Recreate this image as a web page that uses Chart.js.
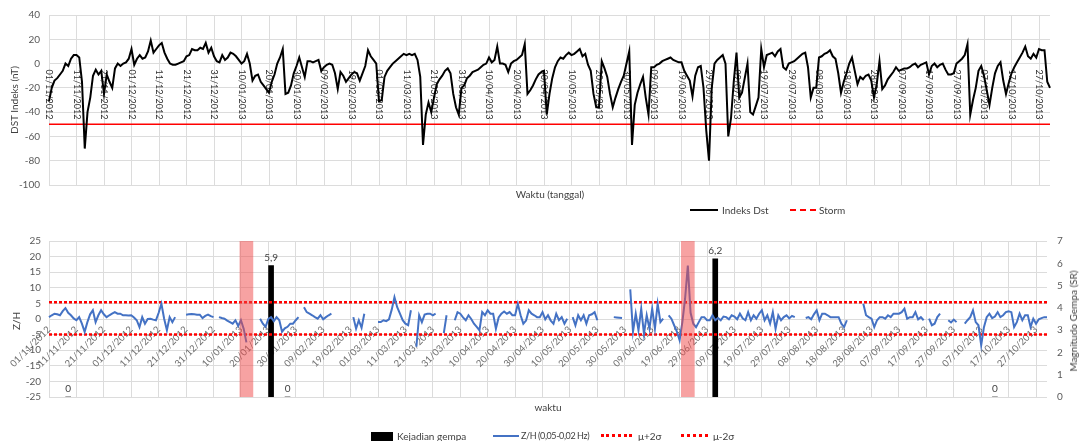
<!DOCTYPE html>
<html>
<head>
<meta charset="utf-8">
<script src="https://cdn.jsdelivr.net/npm/chart.js@4.4.0/dist/chart.umd.min.js"></script>
<style>
  html, body { margin: 0; padding: 0; background: #fff; }
  body { width: 1081px; height: 441px; position: relative; overflow: hidden; font-family: Lato, "Open Sans", sans-serif; }
  canvas { position: absolute; left: 0; }
  #dstChart { top: 0; }
  #zhChart { top: 220px; }
  .txt { position: absolute; font-size: 10px; line-height: 12px; color: #404040; white-space: nowrap; }
  .rot { transform: translate(-50%, -50%) rotate(-90deg); }
  .ctr { transform: translate(-50%, -50%); }
  .key { position: absolute; }
  .narrow { font-size: 9px; letter-spacing: -0.4px; }
</style>
</head>
<body>
<canvas id="dstChart" width="1081" height="200"></canvas>
<canvas id="zhChart" width="1081" height="195"></canvas>

<!-- axis titles -->
<div class="txt rot" style="left:14px; top:100px;">DST Indeks (nT)</div>
<div class="txt ctr" style="left:550px; top:194px;">Waktu (tanggal)</div>
<div class="txt rot" style="left:16px; top:321px;">Z/H</div>
<div class="txt ctr" style="left:548px; top:407px;">waktu</div>
<div class="txt rot" style="left:1073px; top:321px;">Magnitudo Gempa (SR)</div>

<!-- legends -->
<div class="key" style="left:690px; top:209px; width:28px; height:2px; background:#000;"></div>
<div class="txt" style="left:722px; top:204px;">Indeks Dst</div>
<div class="key" style="left:790px; top:209px; width:26px; border-top:2px dashed #ff0000;"></div>
<div class="txt" style="left:819px; top:204px;">Storm</div>

<div class="key" style="left:371px; top:432px; width:22px; height:9px; background:#000;"></div>
<div class="txt" style="left:397px; top:430px;">Kejadian gempa</div>
<div class="key" style="left:493px; top:435px; width:26px; height:2px; background:#4472c4;"></div>
<div class="txt narrow" style="left:521px; top:430px;">Z/H (0,05-0,02 Hz)</div>
<div class="key" style="left:601px; top:434px; width:31px; border-top:3px dotted #ff0000;"></div>
<div class="txt" style="left:638px; top:430px;">μ+2σ</div>
<div class="key" style="left:681px; top:434px; width:27px; border-top:3px dotted #ff0000;"></div>
<div class="txt" style="left:713px; top:430px;">μ-2σ</div>

<script>
// daily Dst index (nT), 01/11/2012 .. 31/10/2013
const dstIndex = [
  -31, -20, -14, -12, -9, -6, 0, -2, 4, 7,
  7, 5, -15, -70, -40, -28, -10, -5, -9, -6,
  -25, -9, -15, -20, -4, 0, -2, 0, 1, 4,
  12, -1, 4, 7, 4, 5, 10, 19, 9, 12,
  15, 17, 9, 4, 0, -1, -1, 0, 1, 2,
  6, 7, 12, 11, 11, 13, 12, 17, 9, 13,
  6, 2, 1, 7, 3, 5, 9, 8, 6, 3,
  0, 2, 8, 0, -14, -10, -9, -15, -18, -21,
  -24, -15, -9, 0, 5, 12, -25, -24, -18, -8,
  -2, 5, -3, -11, 2, 2, 1, 2, 3, -6,
  -3, -1, 0, -1, -8, -21, -7, -10, -15, -12,
  -9, -7, -8, -14, -8, -2, 11, 6, 3, 0,
  -31, -30, -11, -6, -3, 0, 2, 4, 6, 8,
  7, 8, 7, 8, 3, -11, -67, -42, -32, -40,
  -28, -17, -13, -10, -6, -4, -8, -25, -36, -42,
  -20, -18, -12, -10, -7, -6, -5, -3, -1, 0,
  5, 1, 3, 14, 0, 0, -1, -7, 0, 2,
  3, 5, 7, 16, -25, -22, -18, -13, -9, -7,
  -6, -42, -25, -12, -3, 2, 5, 4, 7, 9,
  7, 8, 10, 12, 6, 8, -1, -6, -25, -36,
  -36, 2, -4, -11, -25, -36, -28, -21, -15, -10,
  0, 10, -67, -34, -24, -17, -11, -28, -42, -3,
  -3, -1, 0, 2, 3, 4, 5, 3, 2, 1,
  1, -6, -10, -14, -27, -10, -3, -2, -20, -55,
  -80, -20, 0, 3, 5, 7, 0, -60, -45, -15,
  9, -28, -24, -12, 0, -40, -42, -35, -28, 12,
  -3, 7, 8, 9, 6, 10, 12, -3, -5, 0,
  1, 2, 4, 6, 8, 9, -3, -28, -20, -20,
  5, 6, 8, 9, 11, 6, 4, -8, -24, -15,
  -8, 0, 5, -6, -17, -11, -13, -10, -9, -14,
  -28, -17, 2, -21, -18, -13, -10, -7, -3, -6,
  -5, -4, -4, -3, -1, 0, -3, -1, 0, 1,
  -9, -2, 0, -3, -1, 0, -5, -9, -9, -8,
  0, 2, 4, 7, 16, -42, -30, -20, -6, -2,
  -10, -22, -34, -20, -8, -2, 1, -14, -25, -16,
  -8, -3, 1, 5, 9, 14, 6, 4, 8, 5,
  12, 11, 11, -15, -20
];

// daily Z/H ratio (0,05-0,02 Hz), null = no data
const zhRatio = [
  0.6, 1.2, 1.7, 1.5, 1.2, 2.5, 3.5, 2, 1.2, 0.2,
  -0.4, 0.6, -1.5, -4.1, -1, 1.5, 2.8, -1, 1.2, 2.8,
  1.5, 0.6, 1.2, 1.7, 2.2, 1.7, 1.7, 1.2, 1.2, 1.1,
  1.2, 0.5, -0.4, -2.6, 0.6, -1.5, 0, 0.1, -0.2, -0.4,
  2, 4.9, 0.1, -3.6, 0.6, -1, 0.6, null, null, null,
  1.4, 1.5, 1.6, 1.5, 1.4, 1.4, 0.3, 1, 1.4, 0.9,
  0.6, null, 0.6, 0.3, 0.1, -0.5, -1, -1.5, -0.4, -2.2,
  -0.4, -3.1, -7.5, null, null, null, null, 0.1, -1.5, -2.5,
  0, 0.6, -0.7, 0.6, -0.4, -4.1, -3, -2.5, -1.5, -1.5,
  -0.4, 0.6, null, 3.8, 2.2, 1.7, 1.2, 0.6, 0.1, 1.2,
  -0.1, 0.6, 1.2, 1.7, null, null, null, null, null, null,
  null, 0.6, -3.1, -0.4, -2.8, 1.7, null, null, null, null,
  -1, -1, -0.4, -0.7, -0.1, 3, 7, 3.8, 1.7, -0.4,
  -1.5, -2, 2.8, null, -8.9, 1.2, -1, 1.4, 1.7, 1.7,
  1.2, 1.7, null, null, -4.5, 1.2, null, null, -0.4, 2.2,
  1.7, 0.5, -0.4, 1.2, 0, -1.5, -2.5, -3.6, 2.2, 1.2,
  2.8, 1.7, 1.7, -3.1, 0.5, 1.7, 2.4, 1.7, 2.2, 1.2,
  1.2, 4.9, 1.2, -1.5, -0.5, 2.8, 1.7, 1.2, 0.6, 0.6,
  2.2, -0.1, 1.2, -0.5, -1.5, 1.7, -0.4, 0.6, -1.5, 0.1,
  null, 0.6, -2, 1.2, -0.4, 1.2, -1.5, 1.2, 1.5, 2.2,
  -0.4, null, null, null, null, null, 0.6, 0.5, 0.4, 0.3,
  null, null, 9.5, -4.1, 1.7, -3.6, 3.3, -4.7, 1.2, -3.1,
  3.3, -3.1, 4.9, -1, 0.1, null, 1.2, 0.1, -2, -4,
  -6.8, -1, 6.5, 17.1, 2, -1.5, -2.6, -1, 0.6, 0.6,
  -0.4, -0.4, 1.2, -0.4, 0.3, -0.4, 0.8, 0.6, -0.1, 1.2,
  0.8, -0.1, 1.7, 0.2, -0.4, 2.2, -0.4, 1.2, 0.1, 1.7,
  2.8, -0.4, 1.2, -1.5, 2.2, -3.1, 1.2, -0.4, 0.6, 1.2,
  0.2, 1, 0.6, null, null, null, 0.3, 0.6, -0.1, 1.5,
  2.8, -0.4, 1.7, 1.7, 1.2, 0.6, 0.6, 0.6, 0.6, -1.5,
  -2.6, -0.4, null, null, null, null, null, 4.9, 1.2, 0.6,
  0.1, -2.6, -0.4, 0.6, 0.6, 0.1, 1.2, 0.6, 1.7, 1.7,
  1.7, 2.2, 3.3, 0.1, 0.6, 0.6, 2.2, -0.1, 0.6, -0.4,
  null, 0.1, -2, -1.5, 0.6, 1.7, null, null, -0.4, -1.1,
  -0.2, -1, null, null, -1.5, -0.4, 0.6, 2.8, -1, -2,
  -8.4, -2.6, 0.6, 1.7, 0.3, 0.8, 2.2, 0.6, 1.2, 2.2,
  2.5, 2.2, -2.6, -1, 1.7, -0.4, 1.2, 1.2, -2.6, 0.1,
  -1.5, -0.1, 0.3, 0.6, 0.6
];

// earthquakes (day index from 01/11/2012, magnitude SR)
const quakeDays = [7, 81, 87, 243, 345];
const quakeMag = [0, 5.9, 0, 6.2, 0];
// highlighted anomaly days
const anomalyDays = [72, 233];
const anomalyTop = 7;

const stormLevel = -50;
const muPlus2Sigma = 5.4;
const muMinus2Sigma = -5.0;
const tickEvery = 10;

// day labels dd/mm/yyyy
const days = [];
const start = Date.UTC(2012, 10, 1);
for (let i = 0; i < dstIndex.length; i++) {
  const d = new Date(start + i * 86400000);
  const dd = String(d.getUTCDate()).padStart(2, '0');
  const mm = String(d.getUTCMonth() + 1).padStart(2, '0');
  days.push(dd + '/' + mm + '/' + d.getUTCFullYear());
}
const firstDay = days[0];
const lastDay = days[days.length - 1];

const fontFamily = 'Lato, "Open Sans", sans-serif';
const gridColor = '#dcdcdc';
const tickColor = '#595959';
Chart.defaults.font.family = fontFamily;

const everyTenDays = scale => {
  scale.ticks = scale.ticks.filter(t => t.value % tickEvery === 0);
};

// top chart: date labels hang under the zero line, reading top to bottom
const verticalDateLabels = {
  id: 'verticalDateLabels',
  beforeDatasetsDraw(chart) {
    const { ctx, scales: { x, y } } = chart;
    const top = y.getPixelForValue(0) + 6;
    ctx.save();
    ctx.font = '9px ' + fontFamily;
    ctx.fillStyle = '#2e2e2e';
    ctx.textAlign = 'left';
    ctx.textBaseline = 'middle';
    x.ticks.forEach((t, i) => {
      ctx.save();
      ctx.translate(x.getPixelForTick(i), top);
      ctx.rotate(Math.PI / 2);
      ctx.fillText(x.getLabelForValue(t.value), 0, 0);
      ctx.restore();
    });
    ctx.restore();
  }
};

// bottom chart: magnitude labels over the earthquake bars
const quakeLabels = {
  id: 'quakeLabels',
  afterDatasetsDraw(chart) {
    const idx = chart.data.datasets.findIndex(ds => ds.label === 'Kejadian gempa');
    const meta = chart.getDatasetMeta(idx);
    const { ctx } = chart;
    ctx.save();
    ctx.font = '10px ' + fontFamily;
    ctx.fillStyle = '#404040';
    ctx.textAlign = 'center';
    ctx.textBaseline = 'bottom';
    meta.data.forEach((bar, i) => {
      const v = chart.data.datasets[idx].data[i].y;
      ctx.fillText(String(v).replace('.', ','), bar.x, bar.y - 3);
    });
    ctx.restore();
  }
};

new Chart(document.getElementById('dstChart'), {
  type: 'line',
  data: {
    labels: days,
    datasets: [
      {
        label: 'Indeks Dst',
        data: dstIndex,
        borderColor: '#000',
        borderWidth: 2,
        pointRadius: 0,
        tension: 0,
        order: 0
      },
      {
        label: 'Storm',
        data: [{ x: firstDay, y: stormLevel }, { x: lastDay, y: stormLevel }],
        borderColor: '#ff0000',
        borderWidth: 1.5,
        pointRadius: 0,
        order: 1
      }
    ]
  },
  options: {
    responsive: false,
    animation: false,
    layout: { padding: { top: 15, right: 31, bottom: 15, left: 0 } },
    plugins: { legend: { display: false }, tooltip: { enabled: false } },
    scales: {
      x: {
        type: 'category',
        position: { y: 0 },
        offset: false,
        grid: { color: gridColor, drawTicks: false, offset: false },
        border: { color: gridColor },
        ticks: { display: false, autoSkip: false },
        afterBuildTicks: everyTenDays
      },
      y: {
        min: -100,
        max: 40,
        ticks: { stepSize: 20, color: tickColor, font: { size: 10 }, padding: 9 },
        grid: { color: gridColor, drawTicks: false },
        border: { display: false },
        afterFit: s => { s.width = 49; }
      }
    }
  },
  plugins: [verticalDateLabels]
});

new Chart(document.getElementById('zhChart'), {
  type: 'line',
  data: {
    labels: days,
    datasets: [
      {
        type: 'bar',
        label: 'anomali',
        data: anomalyDays.map(d => ({ x: days[d], y: anomalyTop })),
        yAxisID: 'y1',
        stack: 'events',
        backgroundColor: 'rgba(240, 70, 70, 0.5)',
        barThickness: 13,
        order: 0
      },
      {
        label: 'Z/H (0,05-0,02 Hz)',
        data: zhRatio,
        borderColor: '#4472c4',
        borderWidth: 2,
        pointRadius: 0,
        spanGaps: false,
        tension: 0,
        order: 1
      },
      {
        label: 'μ+2σ',
        data: [{ x: firstDay, y: muPlus2Sigma }, { x: lastDay, y: muPlus2Sigma }],
        borderColor: '#ff0000',
        borderWidth: 2.5,
        borderDash: [3, 2],
        pointRadius: 0,
        order: 2
      },
      {
        label: 'μ-2σ',
        data: [{ x: firstDay, y: muMinus2Sigma }, { x: lastDay, y: muMinus2Sigma }],
        borderColor: '#ff0000',
        borderWidth: 2.5,
        borderDash: [3, 2],
        pointRadius: 0,
        order: 2
      },
      {
        type: 'bar',
        label: 'Kejadian gempa',
        data: quakeDays.map((d, i) => ({ x: days[d], y: quakeMag[i] })),
        yAxisID: 'y1',
        stack: 'events',
        backgroundColor: '#000',
        barThickness: 5,
        order: 3
      }
    ]
  },
  options: {
    responsive: false,
    animation: false,
    layout: { padding: { top: 21, right: 0, bottom: 18, left: 0 } },
    plugins: { legend: { display: false }, tooltip: { enabled: false } },
    scales: {
      x: {
        type: 'category',
        position: { y: 0 },
        offset: false,
        grid: { color: gridColor, drawTicks: false, offset: false },
        border: { color: gridColor },
        ticks: {
          autoSkip: false,
          minRotation: 45,
          maxRotation: 45,
          color: '#6e6e6e',
          font: { size: 9.5 },
          padding: 5
        },
        afterBuildTicks: everyTenDays
      },
      y: {
        min: -25,
        max: 25,
        ticks: { stepSize: 5, color: tickColor, font: { size: 10 }, padding: 8 },
        grid: { color: gridColor, drawTicks: false },
        border: { display: false },
        afterFit: s => { s.width = 49; }
      },
      y1: {
        position: 'right',
        min: 0,
        max: 7,
        stacked: false,
        ticks: { stepSize: 1, color: tickColor, font: { size: 10 }, padding: 10 },
        grid: { display: false, drawTicks: false },
        border: { display: false },
        afterFit: s => { s.width = 34; }
      }
    }
  },
  plugins: [quakeLabels]
});
</script>
</body>
</html>
